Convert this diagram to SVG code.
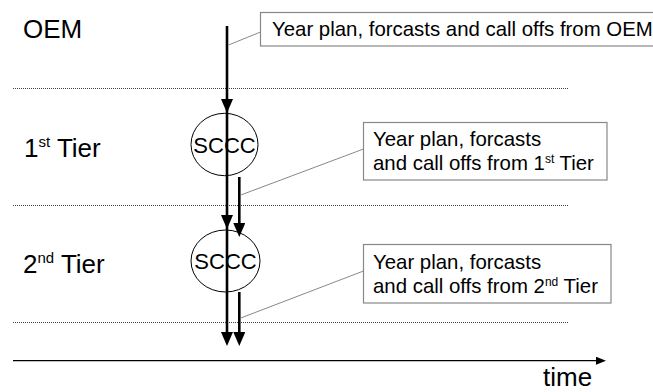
<svg xmlns="http://www.w3.org/2000/svg" width="653" height="392" viewBox="0 0 653 392">
  <style>
    text { font-family: "Liberation Sans", Arial, sans-serif; fill: #000; }
    .tier { font-size: 26px; }
    .note { font-size: 20.4px; }
    .sccc { font-size: 22px; text-anchor: middle; }
    .sep { stroke: #444; stroke-width: 1; stroke-dasharray: 1 1; fill: none; }
    .box { fill: #fff; stroke: #888; stroke-width: 1.2; }
    .node { fill: none; stroke: #000; stroke-width: 1; }
    .flow { stroke: #000; stroke-width: 2.6; fill: none; marker-end: url(#head); }
    .flow-plain { stroke: #000; stroke-width: 2.6; fill: none; }
    .lead { stroke: #888; stroke-width: 1; fill: none; }
    .axis { stroke: #000; stroke-width: 1.3; fill: none; marker-end: url(#axhead); }
  </style>
  <defs>
    <marker id="head" markerUnits="userSpaceOnUse" viewBox="0 0 14 12" refX="10" refY="6" markerWidth="14" markerHeight="12" orient="auto">
      <path d="M0,0 L14,6 L0,12 Z" fill="#000"/>
    </marker>
    <marker id="axhead" markerUnits="userSpaceOnUse" viewBox="0 0 10 8" refX="7" refY="4" markerWidth="10" markerHeight="8" orient="auto">
      <path d="M0,0 L10,4 L0,8 Z" fill="#000"/>
    </marker>
  </defs>

  <rect width="653" height="392" fill="#fff"/>

  <!-- tier separators -->
  <g id="separators">
    <line class="sep" x1="13" y1="88.5" x2="568" y2="88.5"/>
    <line class="sep" x1="13" y1="205.5" x2="568" y2="205.5"/>
    <line class="sep" x1="13" y1="322.5" x2="568" y2="322.5"/>
  </g>

  <!-- tier labels -->
  <g id="label-oem"><text class="tier" x="23" y="38">OEM</text></g>
  <g id="label-tier1"><text class="tier" x="24" y="157">1<tspan font-size="15" dy="-10">st</tspan><tspan dy="10"> Tier</tspan></text></g>
  <g id="label-tier2"><text class="tier" x="23" y="273">2<tspan font-size="15" dy="-10">nd</tspan><tspan dy="10"> Tier</tspan></text></g>

  <!-- SCCC nodes -->
  <g id="sccc-1">
    <ellipse class="node" cx="224.5" cy="144.5" rx="33.5" ry="31.2"/>
    <text class="sccc" x="224.5" y="152.5">SCCC</text>
  </g>
  <g id="sccc-2">
    <ellipse class="node" cx="225.5" cy="261" rx="34.5" ry="31"/>
    <text class="sccc" x="225.5" y="269">SCCC</text>
  </g>

  <!-- callouts -->
  <g id="note-oem">
    <rect class="box" x="260.5" y="12.5" width="400" height="33.5"/>
    <text class="note" x="272" y="35.5">Year plan, forcasts and call offs from OEM</text>
  </g>
  <g id="note-tier1">
    <rect class="box" x="363.5" y="122.5" width="243.5" height="57.5"/>
    <text class="note" x="373" y="146">Year plan, forcasts</text>
    <text class="note" x="373" y="170">and call offs from 1<tspan font-size="12" dy="-7">st</tspan><tspan dy="7"> Tier</tspan></text>
  </g>
  <g id="note-tier2">
    <rect class="box" x="363.5" y="244.5" width="247.5" height="58.5"/>
    <text class="note" x="373" y="269">Year plan, forcasts</text>
    <text class="note" x="373" y="293">and call offs from 2<tspan font-size="12" dy="-7">nd</tspan><tspan dy="7"> Tier</tspan></text>
  </g>

  <!-- time axis -->
  <g id="time-axis">
    <line class="axis" x1="13" y1="360.7" x2="603" y2="360.7"/>
    <text class="tier" x="543" y="386">time</text>
  </g>

  <!-- flows and callout leaders -->
  <g id="connectors">
    <line class="flow" x1="227" y1="26" x2="227" y2="109"/>
    <line class="flow" x1="227" y1="176" x2="227" y2="225"/>
    <line class="flow" x1="227" y1="292" x2="227" y2="342"/>
    <line class="flow" x1="239.3" y1="177" x2="239.3" y2="233"/>
    <line class="flow" x1="239.3" y1="292" x2="239.3" y2="342"/>
    <line class="flow-plain" x1="227" y1="109" x2="227" y2="176"/>
    <line class="flow-plain" x1="227" y1="225" x2="227" y2="292"/>
    <line class="lead" x1="260.5" y1="32" x2="228.5" y2="45"/>
    <line class="lead" x1="363.5" y1="149" x2="240.8" y2="195"/>
    <line class="lead" x1="363.5" y1="271" x2="240.8" y2="318"/>
  </g>
</svg>
